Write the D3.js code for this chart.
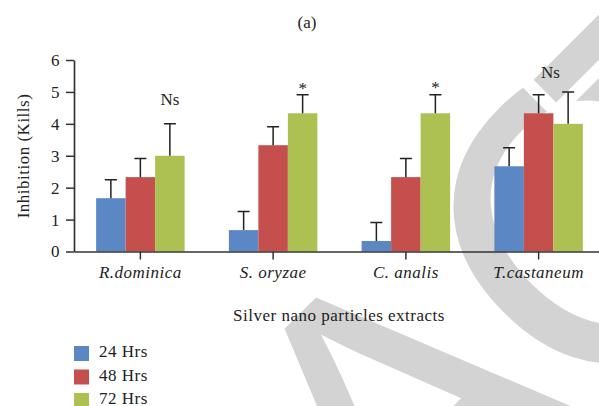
<!DOCTYPE html>
<html>
<head>
<meta charset="utf-8">
<script src="https://cdn.jsdelivr.net/npm/d3@7"></script>
<style>
  html, body { margin: 0; padding: 0; background: #fff; }
  svg { display: block; font-family: "Liberation Serif", "Times New Roman", serif; }
</style>
</head>
<body>
<svg id="chart" width="599" height="406"></svg>
<script>
// Mean kills per extract and exposure time, with standard deviations
const categories = ["R.dominica", "S. oryzae", "C. analis", "T.castaneum"];
const seriesNames = ["24 Hrs", "48 Hrs", "72 Hrs"];
const values24 = [1.67, 0.67, 0.33, 2.67];
const values48 = [2.33, 3.33, 2.33, 4.33];
const values72 = [3.00, 4.33, 4.33, 4.00];
const errors24 = [0.58, 0.58, 0.58, 0.58];
const errors48 = [0.58, 0.58, 0.58, 0.58];
const errors72 = [1.00, 0.58, 0.58, 1.00];
const seriesColors = ["#5b88c5", "#c44f4c", "#adc153"];
const yTicks = [0, 1, 2, 3, 4, 5, 6];

// Significance marks above each group
const annotLabels = ["Ns", "*", "*", "Ns"];
const annotLevels = [4.6, 4.93, 4.96, 5.43];
const annotSlots = [2, 2, 2, 1.4];

// Diagonal status stamp, one glyph at a time with per-letter spacing tweaks
const stampLetters = ["R", "E", "T", "R", "A", "C", "T", "E", "D"];
const stampKern = [0, 0, 0, 0, 0, -16, -106, 0, 0];

const svg = d3.select("#chart");
const W = 599, H = 406;
svg.append("rect").attr("width", W).attr("height", H).attr("fill", "#fff");

// ---- stamp behind the chart ----
const stampSize = 420;
const capLine = 422;                       // distance of the cap line from the corner, along the diagonal
const stampBase = capLine + 0.716 * stampSize;
const stampFont = "Liberation Sans, Arial, sans-serif";
const stamp = svg.append("g").attr("transform", "rotate(-45)");
const probe = stamp.append("text").attr("font-family", stampFont).attr("font-size", stampSize);
const adv = stampLetters.map(ch => { probe.text(ch); return probe.node().getComputedTextLength(); });
probe.remove();
const pos = [];
stampLetters.forEach((ch, i) => {
  pos.push(i === 0 ? 0 : pos[i - 1] + adv[i - 1] + stampKern[i]);
});
const shift = -10 - (pos[4] + adv[4] / 2);   // centre of the "A"
stampLetters.forEach((ch, i) => {
  stamp.append("text")
    .attr("x", pos[i] + shift)
    .attr("y", stampBase)
    .attr("font-family", stampFont)
    .attr("font-size", stampSize)
    .attr("fill", "#d3d3d3")
    .attr("stroke", "#fff")
    .attr("stroke-width", 26)
    .attr("paint-order", "stroke")
    .text(ch);
});

const valuesBySeries = [values24, values48, values72];
const errorsBySeries = [errors24, errors48, errors72];

const y = d3.scaleLinear().domain([0, 6]).range([251.5, 60]);
const x = d3.scaleBand().domain(categories).range([74, 605]).padding(0);
const xs = d3.scaleBand().domain(seriesNames).range([0, x.bandwidth()])
  .paddingInner(0).paddingOuter(0.75);

const g = svg.append("g");

// Bars
seriesNames.forEach((s, si) => {
  g.append("g").selectAll("rect")
    .data(categories)
    .join("rect")
    .attr("x", c => x(c) + xs(s))
    .attr("y", (c, i) => y(valuesBySeries[si][i]))
    .attr("width", xs.bandwidth())
    .attr("height", (c, i) => y(0) - y(valuesBySeries[si][i]))
    .attr("fill", seriesColors[si]);
});

// Upper error bars
const capHalf = 6;
seriesNames.forEach((s, si) => {
  const eg = g.append("g").attr("stroke", "#222").attr("stroke-width", 1.5).attr("fill", "none");
  categories.forEach((c, i) => {
    const cx = x(c) + xs(s) + xs.bandwidth() / 2;
    const top = y(valuesBySeries[si][i] + errorsBySeries[si][i]);
    const base = y(valuesBySeries[si][i]);
    eg.append("path").attr("d", `M${cx},${base}V${top}M${cx - capHalf},${top}H${cx + capHalf}`);
  });
});

// Axes
const axisColor = "#333";
const yAxis = svg.append("g").attr("transform", "translate(74,0)")
  .call(d3.axisLeft(y).tickValues(yTicks).tickSize(8).tickSizeOuter(0).tickPadding(6).tickFormat(d3.format("d")));
const xAxis = svg.append("g").attr("transform", `translate(0,${y(0)})`)
  .call(d3.axisBottom(x).tickSize(8).tickSizeOuter(0).tickPadding(6.4));

[yAxis, xAxis].forEach(a => {
  a.select(".domain").attr("stroke", axisColor).attr("stroke-width", 1.7);
  a.selectAll(".tick line").attr("stroke", axisColor).attr("stroke-width", 1.5);
  a.selectAll("text")
    .attr("fill", "#222")
    .attr("font-family", "Liberation Serif, Times New Roman, serif")
    .attr("font-size", 17)
    .attr("letter-spacing", "0.5px");
});
xAxis.selectAll(".tick text").attr("font-style", "italic");

// Significance labels
annotLabels.forEach((lab, i) => {
  const c = categories[i];
  svg.append("text")
    .attr("x", x(c) + xs.step() * (xs.paddingOuter() + annotSlots[i] + 0.5))
    .attr("y", y(annotLevels[i]))
    .attr("text-anchor", "middle")
    .attr("font-size", 17)
    .attr("fill", "#222")
    .text(lab);
});

// Titles
svg.append("text").attr("x", 307).attr("y", 28).attr("text-anchor", "middle")
  .attr("font-size", 17).attr("fill", "#222").text("(a)");

svg.append("text").attr("transform", "translate(28.5,156) rotate(-90)")
  .attr("text-anchor", "middle").attr("font-size", 17).attr("letter-spacing", "0.5px")
  .attr("fill", "#222").text("Inhibition (Kills)");

svg.append("text").attr("x", 339).attr("y", 321).attr("text-anchor", "middle")
  .attr("font-size", 17).attr("letter-spacing", "0.5px")
  .attr("fill", "#222").text("Silver nano particles extracts");

// Legend
const legend = svg.append("g").attr("transform", "translate(74,346)");
seriesNames.forEach((s, i) => {
  const row = legend.append("g").attr("transform", `translate(0,${i * 23.5})`);
  row.append("rect").attr("width", 15).attr("height", 15).attr("fill", seriesColors[i]);
  row.append("text").attr("x", 25).attr("y", 11).attr("font-size", 17)
    .attr("letter-spacing", "0.5px").attr("fill", "#222").text(s);
});
</script>
</body>
</html>
